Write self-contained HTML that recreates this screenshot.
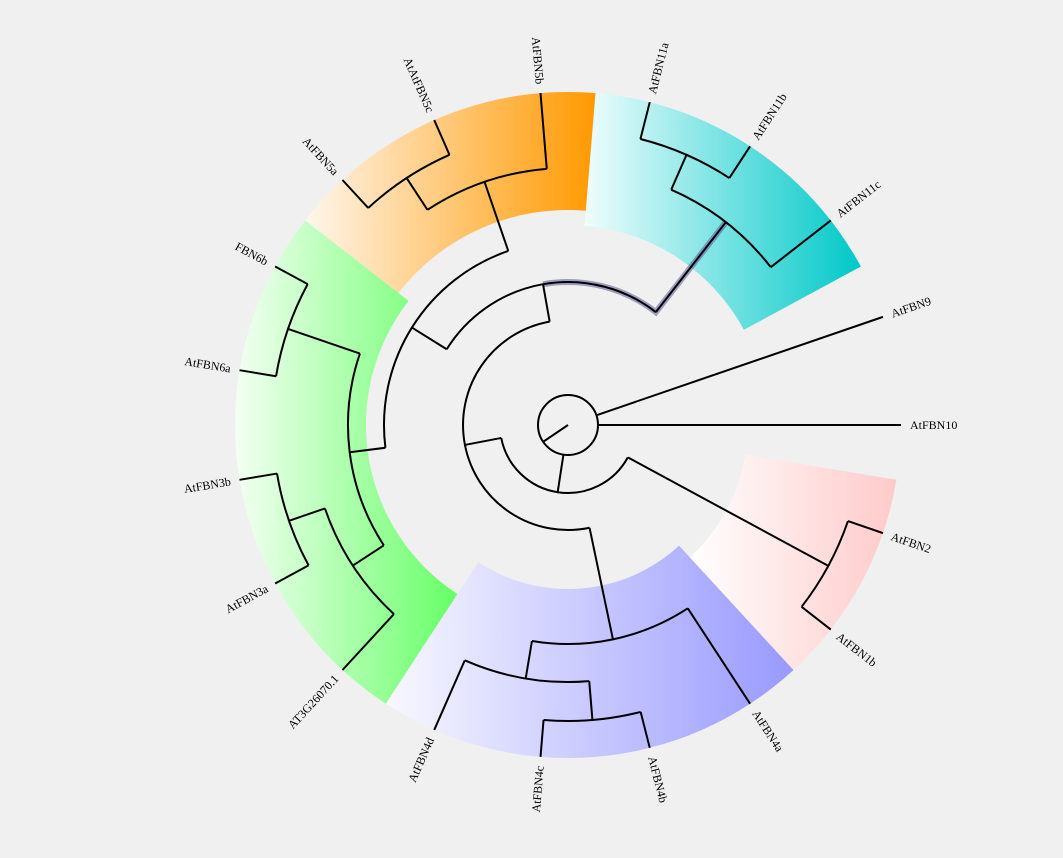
<!DOCTYPE html>
<html><head><meta charset="utf-8"><style>
html,body{margin:0;padding:0;background:#f0f0f0;}
svg{display:block;}
text{font-family:"Liberation Serif",serif;font-size:12px;fill:#000;}
</style></head><body>
<svg id="tree" width="1063" height="858" viewBox="0 0 1063 858" xmlns="http://www.w3.org/2000/svg">
<defs>
<linearGradient id="g-cyan" x1="0" x2="1" y1="0" y2="0"><stop offset="0" stop-color="#f0fdfd"/><stop offset="1" stop-color="#00c8c8"/></linearGradient>
<linearGradient id="g-orange" x1="0" x2="1" y1="0" y2="0"><stop offset="0" stop-color="#fff6ec"/><stop offset="1" stop-color="#ff9900"/></linearGradient>
<linearGradient id="g-green" x1="0" x2="1" y1="0" y2="0"><stop offset="0" stop-color="#f4fff4"/><stop offset="1" stop-color="#66ff66"/></linearGradient>
<linearGradient id="g-purple" x1="0" x2="1" y1="0" y2="0"><stop offset="0" stop-color="#f8f8ff"/><stop offset="1" stop-color="#9999ff"/></linearGradient>
<linearGradient id="g-pink" x1="0" x2="1" y1="0" y2="0"><stop offset="0" stop-color="#ffffff"/><stop offset="1" stop-color="#ffcaca"/></linearGradient>
</defs>
<g id="bands"></g>
<g id="highlight"></g>
<g id="branches" fill="none" stroke="#000" stroke-width="2"></g>
<g id="labels"></g>
</svg>
<script>
const leaves = ["AtFBN10","AtFBN9","AtFBN11c","AtFBN11b","AtFBN11a","AtFBN5b","AtAtFBN5c","AtFBN5a","FBN6b","AtFBN6a","AtFBN3b","AtFBN3a","AT3G26070.1","AtFBN4d","AtFBN4c","AtFBN4b","AtFBN4a","AtFBN1b","AtFBN2"];
const leafDepth = 333;
const nodeIds = ["root","A","P","B","V0","V1","V2","U","C1","C2","H","O1","O2","G0","G1","G2","G3"];
const nodeDepth = [30,68,296,105,219,257,296,143,257,295,184,257,295,220,296,257,295];
const nodeChildren = [
  ["L0","L1","A"], ["B","P"], ["L17","L18"], ["U","V0"], ["V1","L16"], ["L13","V2"], ["L14","L15"],
  ["C1","H"], ["L2","C2"], ["L3","L4"], ["O1","G0"], ["L5","O2"], ["L6","L7"], ["G1","G2"], ["L8","L9"], ["G3","L12"], ["L10","L11"]
];
const bandNames = ["cyan","orange","green","purple","pink"];
const bandFirstLeaf = [2,5,8,13,17];
const bandLastLeaf = [4,7,12,16,18];
const bandInner = [200,215,202,164,180];

const CX = 568, CY = 425, STEP = 360/leaves.length;
const NS = "http://www.w3.org/2000/svg";
function ang(t){ return -t*STEP*Math.PI/180; }
function pt(r,t){ const a=ang(t); return [CX+r*Math.cos(a), CY+r*Math.sin(a)]; }
function f(n){ return n.toFixed(2); }
function arcPath(r,t1,t2){ // t1<t2, goes counterclockwise on screen
  const p1=pt(r,t1), p2=pt(r,t2); const large=(t2-t1)*STEP>180?1:0;
  return "M"+f(p1[0])+","+f(p1[1])+" A"+r+","+r+" 0 "+large+" 0 "+f(p2[0])+","+f(p2[1]);
}
function depthOf(id){ return id[0]==="L" ? leafDepth : nodeDepth[nodeIds.indexOf(id)]; }
const tCache = {};
function tOf(id){
  if(id in tCache) return tCache[id];
  let t;
  if(id[0]==="L") t = +id.slice(1);
  else { const ch = nodeChildren[nodeIds.indexOf(id)].map(tOf); t = (Math.min(...ch)+Math.max(...ch))/2; }
  tCache[id]=t; return t;
}

// bands
const gb = document.getElementById("bands");
bandNames.forEach((nm,i)=>{
  const t1=bandFirstLeaf[i]-0.5, t2=bandLastLeaf[i]+0.5, ro=leafDepth, ri=bandInner[i];
  const a=pt(ro,t1), b=pt(ro,t2), c=pt(ri,t2), d=pt(ri,t1);
  const p=document.createElementNS(NS,"path");
  p.setAttribute("d","M"+f(a[0])+","+f(a[1])+" A"+ro+","+ro+" 0 0 0 "+f(b[0])+","+f(b[1])+" L"+f(c[0])+","+f(c[1])+" A"+ri+","+ri+" 0 0 1 "+f(d[0])+","+f(d[1])+" Z");
  p.setAttribute("fill","url(#g-"+nm+")");
  
  
  gb.appendChild(p);
});

// highlight (U -> C1)
const gh = document.getElementById("highlight");
{
  const tU=tOf("U"), tC=tOf("C1"), rU=depthOf("U"), rC=depthOf("C1");
  const a=pt(rC,tC), b=pt(rU,tC);
  const p=document.createElementNS(NS,"path");
  p.setAttribute("d","M"+f(a[0])+","+f(a[1])+" L"+f(b[0])+","+f(b[1])+" "+arcPath(rU,tC,tU).replace(/^M[^A]*/,""));
  p.setAttribute("fill","none"); p.setAttribute("stroke","#5a5a96"); p.setAttribute("stroke-opacity","0.55"); p.setAttribute("stroke-width","6");
  
  
  gh.appendChild(p);
}

// branches
const gbr = document.getElementById("branches");
nodeIds.forEach((id,i)=>{
  const r=nodeDepth[i], ch=nodeChildren[i];
  const ts=ch.map(tOf);
  if(id==="root"){
    const c=document.createElementNS(NS,"circle");
    c.setAttribute("cx",CX); c.setAttribute("cy",CY); c.setAttribute("r",r);
    
    
    gbr.appendChild(c);
    const s=document.createElementNS(NS,"line");
    s.setAttribute("x1",CX); s.setAttribute("y1",CY);
    s.setAttribute("x2",f(CX+r*Math.cos(146*Math.PI/180))); s.setAttribute("y2",f(CY+r*Math.sin(146*Math.PI/180)));
    
    
    gbr.appendChild(s);
  } else {
    const a=document.createElementNS(NS,"path");
    a.setAttribute("d",arcPath(r,Math.min(...ts),Math.max(...ts)));
    
    
    gbr.appendChild(a);
  }
  ch.forEach(cid=>{
    const t=tOf(cid), p1=pt(r,t), p2=pt(depthOf(cid),t);
    const l=document.createElementNS(NS,"line");
    l.setAttribute("x1",f(p1[0])); l.setAttribute("y1",f(p1[1]));
    l.setAttribute("x2",f(p2[0])); l.setAttribute("y2",f(p2[1]));
    
    
    gbr.appendChild(l);
  });
});

// labels
const gl = document.getElementById("labels");
leaves.forEach((name,i)=>{
  let deg = -i*STEP; const p=pt(leafDepth+9,i);
  let norm = ((deg%360)+360)%360;
  const flip = norm>90 && norm<270;
  const tx=document.createElementNS(NS,"text");
  tx.setAttribute("x",f(p[0])); tx.setAttribute("y",f(p[1]));
  tx.setAttribute("dominant-baseline","central");
  tx.setAttribute("text-anchor", flip?"end":"start");
  tx.setAttribute("transform","rotate("+f(flip?deg+180:deg)+" "+f(p[0])+" "+f(p[1])+")");
  tx.textContent=name;
  
  
  gl.appendChild(tx);
});
</script>
</body></html>
